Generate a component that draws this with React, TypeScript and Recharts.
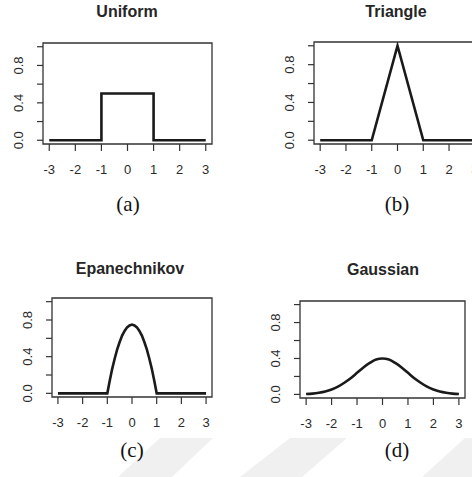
import { LineChart, Line, XAxis, YAxis, ReferenceArea } from 'recharts';

// axis ticks shared by all four kernels
const xTicks = [-3, -2, -1, 0, 1, 2, 3];
const yTicks = [0, 0.2, 0.4, 0.6, 0.8, 1];
const yLabelled = [0, 0.4, 0.8];

// Uniform kernel
const uniformX = [-3, -1, -1, 1, 1, 3];
const uniformY = [0, 0, 0.5, 0.5, 0, 0];

// Triangle kernel
const triangleX = [-3, -1, 0, 1, 3];
const triangleY = [0, 0, 1, 0, 0];

// Epanechnikov kernel
const epanX = [-3, -1, -0.9, -0.8, -0.7, -0.6, -0.5, -0.4, -0.3, -0.2, -0.1, 0, 0.1, 0.2, 0.3, 0.4, 0.5, 0.6, 0.7, 0.8, 0.9, 1, 3];
const epanY = [0, 0, 0.14, 0.27, 0.38, 0.48, 0.56, 0.63, 0.68, 0.72, 0.74, 0.75, 0.74, 0.72, 0.68, 0.63, 0.56, 0.48, 0.38, 0.27, 0.14, 0, 0];

// Gaussian kernel
const gaussX = [-3, -2.75, -2.5, -2.25, -2, -1.75, -1.5, -1.25, -1, -0.75, -0.5, -0.25, 0, 0.25, 0.5, 0.75, 1, 1.25, 1.5, 1.75, 2, 2.25, 2.5, 2.75, 3];
const gaussY = [0.005, 0.009, 0.018, 0.032, 0.054, 0.086, 0.13, 0.18, 0.24, 0.3, 0.35, 0.39, 0.4, 0.39, 0.35, 0.3, 0.24, 0.18, 0.13, 0.086, 0.054, 0.032, 0.018, 0.009, 0.005];

const zip = (xs: number[], ys: number[]) => xs.map((x, i) => ({ x, y: ys[i] }));

const X_DOM: [number, number] = [-3.24, 3.24];
const Y_DOM: [number, number] = [-0.04, 1.04];
const INK = '#1a1a1a';
const FONT = '"Liberation Sans", Arial, sans-serif';

function RotTick(props: any) {
    const { x, y, payload } = props;
    const v = payload.value;
    if (!yLabelled.some((t) => Math.abs(t - v) < 1e-6)) return null;
    return (
        <text
            x={x}
            y={y}
            transform={`rotate(-90, ${x}, ${y})`}
            textAnchor="middle"
            fontSize={13}
            fontFamily={FONT}
            fill="#2a2a2a"
        >
            {v.toFixed(1)}
        </text>
    );
}

type Box = { l: number; t: number; r: number; b: number };

function Panel({ box, title, tag, tagX, tagY, titleX, titleY, data, smooth }: {
    box: Box; title: string; tag: string; tagX: number; tagY: number;
    titleX: number; titleY: number; data: { x: number; y: number }[]; smooth?: boolean;
}) {
    const YW = 45;
    const XH = 40;
    const w = box.r - box.l + YW + 5;
    const h = box.b - box.t + XH + 5;
    return (
        <>
            <div style={{
                position: 'absolute', left: titleX - 100, top: titleY - 10, width: 200, height: 20,
                lineHeight: '20px', textAlign: 'center', fontFamily: FONT,
                fontSize: 16, fontWeight: 'bold', color: '#262626',
            }}>{title}</div>
            <div style={{ position: 'absolute', left: box.l - YW, top: box.t - 5 }}>
                <LineChart width={w} height={h} data={data} margin={{ top: 5, right: 5, left: 0, bottom: 0 }}>
                    <XAxis
                        dataKey="x"
                        type="number"
                        domain={X_DOM}
                        allowDataOverflow
                        ticks={xTicks}
                        interval={0}
                        height={XH}
                        axisLine={false}
                        tickSize={7}
                        tickMargin={14}
                        tickLine={{ stroke: '#333', strokeWidth: 1.2 }}
                        tick={{ fill: '#2a2a2a', fontSize: 13, fontFamily: FONT }}
                    />
                    <YAxis
                        type="number"
                        domain={Y_DOM}
                        allowDataOverflow
                        ticks={yTicks}
                        interval={0}
                        width={YW}
                        axisLine={false}
                        tickSize={6}
                        tickMargin={14}
                        tickLine={{ stroke: '#333', strokeWidth: 1.2 }}
                        tick={<RotTick />}
                    />
                    <ReferenceArea
                        x1={X_DOM[0]} x2={X_DOM[1]} y1={Y_DOM[0]} y2={Y_DOM[1]}
                        fill="none" stroke="#333" strokeWidth={1.3} ifOverflow="visible"
                    />
                    <Line
                        dataKey="y"
                        type={smooth ? 'monotone' : 'linear'}
                        stroke={INK}
                        strokeWidth={2.6}
                        dot={false}
                        isAnimationActive={false}
                    />
                </LineChart>
            </div>
            <div style={{
                position: 'absolute', left: tagX - 40, top: tagY - 13, width: 80, height: 26,
                lineHeight: '26px', textAlign: 'center', fontFamily: '"Liberation Serif", "Times New Roman", serif',
                fontSize: 21, color: '#111',
            }}>{tag}</div>
        </>
    );
}

function Stripe({ pts }: { pts: string }) {
    return (
        <div style={{
            position: 'absolute', left: 0, top: 0, width: 472, height: 477,
            background: '#f0f0f0', clipPath: `polygon(${pts})`,
        }} />
    );
}

export default function App() {
    return (
        <div style={{ position: 'absolute', left: 0, top: 0, width: 472, height: 477, background: '#fff', overflow: 'hidden' }}>
            <Stripe pts="160px 438px, 213px 438px, 172px 477px, 118px 477px" />
            <Stripe pts="290px 438px, 347px 438px, 302px 477px, 240px 477px" />
            <Stripe pts="465px 438px, 472px 438px, 472px 477px, 422px 477px" />
            <Panel box={{ l: 43, t: 43, r: 212, b: 144 }} title="Uniform" titleX={127} titleY={12}
                tag="(a)" tagX={128} tagY={204} data={zip(uniformX, uniformY)} />
            <Panel box={{ l: 314, t: 42, r: 481, b: 144 }} title="Triangle" titleX={396} titleY={12}
                tag="(b)" tagX={397} tagY={204} data={zip(triangleX, triangleY)} />
            <Panel box={{ l: 52, t: 298, r: 212, b: 397 }} title="Epanechnikov" titleX={130} titleY={269}
                tag="(c)" tagX={132} tagY={450} data={zip(epanX, epanY)} />
            <Panel box={{ l: 300, t: 301, r: 465, b: 398 }} title="Gaussian" titleX={383} titleY={270}
                tag="(d)" tagX={397} tagY={450} data={zip(gaussX, gaussY)} smooth />
        </div>
    );
}
